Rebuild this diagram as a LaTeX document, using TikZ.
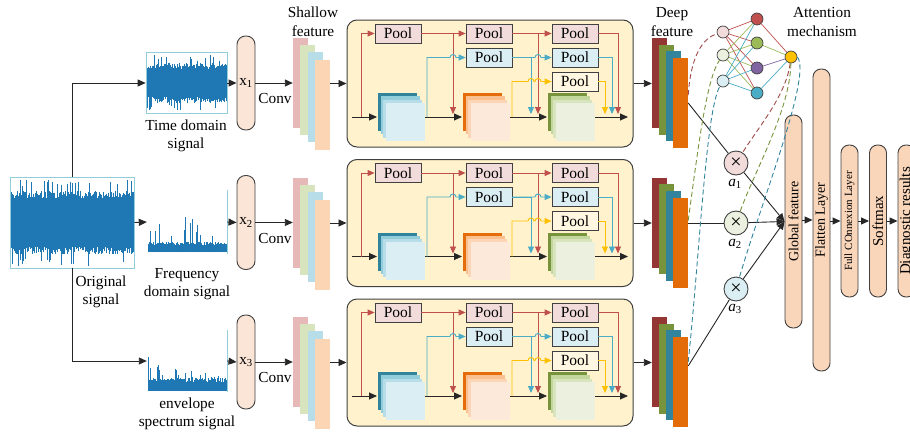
\documentclass[tikz,border=0pt]{standalone}
\usepackage{fontspec}
\setmainfont{Liberation Serif}
\usepackage{tikz}
\usetikzlibrary{arrows.meta, positioning}

\definecolor{sigblue}{HTML}{1F77B4}
\definecolor{sigframe}{HTML}{92CDDC}
\definecolor{edgegray}{HTML}{404040}
\definecolor{pillfill}{HTML}{FBE5D6}
\definecolor{layerfill}{HTML}{F9D5BA}
\definecolor{blockfill}{HTML}{FFF2CC}
\definecolor{pred}{HTML}{C0504D}
\definecolor{pgreen}{HTML}{9BBB59}
\definecolor{pblue}{HTML}{4BACC6}
\definecolor{ppurple}{HTML}{8064A2}
\definecolor{pyellow}{HTML}{FFC000}
\definecolor{lred}{HTML}{F2DCDB}
\definecolor{lgreen}{HTML}{EBF1DE}
\definecolor{lblue}{HTML}{DAEEF3}
\definecolor{lyellow}{HTML}{FFF7E1}
\definecolor{shA}{HTML}{E6B9B8}
\definecolor{shB}{HTML}{D7E4BD}
\definecolor{shC}{HTML}{B7DEE8}
\definecolor{shD}{HTML}{FCD5B5}
\definecolor{dpA}{HTML}{943634}
\definecolor{dpB}{HTML}{77933C}
\definecolor{dpC}{HTML}{31849B}
\definecolor{dpD}{HTML}{E36C09}
\definecolor{cubeA1}{HTML}{31849B}
\definecolor{cubeA2}{HTML}{92CDDC}
\definecolor{cubeA3}{HTML}{B7DEE8}
\definecolor{cubeA4}{HTML}{DAEEF3}
\definecolor{cubeB1}{HTML}{E46C0A}
\definecolor{cubeB2}{HTML}{FAC090}
\definecolor{cubeB3}{HTML}{FBD5B5}
\definecolor{cubeB4}{HTML}{FDE9D9}
\definecolor{cubeC1}{HTML}{77933C}
\definecolor{cubeC2}{HTML}{C3D69B}
\definecolor{cubeC3}{HTML}{D7E4BD}
\definecolor{cubeC4}{HTML}{EBF1DE}

\begin{document}
\begin{tikzpicture}[x=1pt, y=-1pt, font=\fontsize{15.3}{18.5}\selectfont,
    arr/.style={draw=black!85, line width=0.9pt, -{Triangle[length=8pt,width=7pt]}},
    link/.style={draw=black!85, line width=0.9pt},
    redl/.style={draw=pred, line width=0.9pt, -{Triangle[length=7pt,width=6pt]}},
    bluel/.style={draw=pblue, line width=0.9pt, -{Triangle[length=7pt,width=6pt]}},
    yell/.style={draw=pyellow, line width=0.9pt, -{Triangle[length=7pt,width=6pt]}},
    sig/.style={draw=sigblue, line width=0.9pt},
    sigbox/.style={draw=sigframe, line width=0.7pt, inner sep=0pt},
    pill/.style={draw=edgegray, line width=0.9pt, fill=pillfill, rounded corners=8.5pt, inner sep=0pt, minimum width=18pt, minimum height=94pt},
    layer/.style={draw=edgegray, line width=0.9pt, fill=layerfill, rounded corners=8pt, inner sep=0pt, minimum width=17pt},
    pool/.style={draw=edgegray, line width=0.8pt, inner sep=0pt, minimum width=46pt, minimum height=19pt, font=\fontsize{15.5}{17}\selectfont},
    slab/.style={inner sep=0pt, minimum width=15pt, minimum height=90pt},
    mul/.style={circle, draw=edgegray, line width=0.9pt, minimum size=24pt, inner sep=0pt},
    neuron/.style={circle, draw=edgegray, line width=0.7pt, minimum size=12pt, inner sep=0pt},
    att/.style={dash pattern=on 5pt off 3pt, line width=0.9pt},
    txt/.style={align=center, inner sep=0pt}]
  \useasboundingbox (0,0) rectangle (910,434);

  \node[sigbox, minimum width=124pt, minimum height=91pt] (orig) at (72,222.5) {};
  \node[sigbox, minimum width=81pt, minimum height=61pt] (ts) at (186.5,83) {};
  \node[inner sep=0pt, minimum width=80pt, minimum height=63pt] (fs) at (187,222) {};
  \node[inner sep=0pt, minimum width=80pt, minimum height=62pt] (es) at (187,361) {};
  \draw[draw=sigframe, line width=0.7pt] (fs.north east) -- (fs.south east);
  \draw[draw=sigframe, line width=0.7pt] (es.north east) -- (es.south east);

  \pgfmathsetseed{7}
  \foreach \px in {11.5,12.2,...,133.5}{
    \pgfmathsetmacro\up{24+8*rnd+12*(rnd>0.9)}
    \pgfmathsetmacro\dn{24+8*rnd+12*(rnd>0.9)}
    \draw[sig] (\px,222.5-\up) -- (\px,222.5+\dn);
  }
  \foreach \px in {147,147.7,...,226.5}{
    \pgfmathsetmacro\up{14+6*rnd+8*(rnd>0.9)}
    \pgfmathsetmacro\dn{14+6*rnd+8*(rnd>0.9)}
    \draw[sig] (\px,83-\up) -- (\px,83+\dn);
  }
  \foreach \px in {148,148.7,...,226.5}{
    \pgfmathsetmacro\h{7+3*rnd+(rnd>0.88)*(6+22*rnd)}
    \draw[sig] (\px,252) -- (\px,252-\h);
  }
  \foreach \px in {148,148.7,...,226.5}{
    \pgfmathsetmacro\h{9+4*rnd+(rnd>0.75)*(5+28*rnd)*exp(-(\px-148)/35)}
    \draw[sig] (\px,391) -- (\px,391-\h);
  }

  \node[txt] (tor) at (101,292) {Original\\signal};
  \node[txt] (tts) at (186,136) {Time domain\\signal};
  \node[txt] (tfs) at (187,284) {Frequency\\domain signal};
  \node[txt] (tes) at (187,414) {envelope\\spectrum signal};
  \node[txt] (tshal) at (313,22) {Shallow\\feature};
  \node[txt] (tdeep) at (672,22) {Deep\\feature};
  \node[txt] (tatt) at (822,22) {Attention\\mechanism};

  \draw[arr] (orig.north) |- (ts.west);
  \draw[arr] (orig.east) -- (fs.west);
  \draw[arr] (orig.south) |- (es.west);

  \foreach \b/\dy in {1/0,2/139.5,3/279}{
    \begin{scope}[shift={(0,\dy)}]
      \node[pill] (x\b) at (246,83) {x\textsubscript{\b}};
      \node (cv\b) at (275,99) {Conv};
      \node[slab, fill=shA] (sa\b) at (300.5,83) {};
      \node[slab, fill=shB] (sb\b) at (307.5,90) {};
      \node[slab, fill=shC] (sc\b) at (315,97) {};
      \node[slab, fill=shD] (sd\b) at (322.5,105) {};
      \node[draw=edgegray, line width=1pt, fill=blockfill, rounded corners=10pt, minimum width=286pt, minimum height=127pt, inner sep=0pt] (blk\b) at (490,83.5) {};
      \node[slab, fill=dpA] (da\b) at (659.5,83) {};
      \node[slab, fill=dpB] (db\b) at (666.5,89.5) {};
      \node[slab, fill=dpC] (dc\b) at (673.5,96) {};
      \node[slab, fill=dpD] (dd\b) at (680.5,103) {};

      \draw[arr] (x\b.east) -- (sa\b.west);
      \draw[arr] (sd\b.east |- blk\b.west) -- (blk\b.west);
      \draw[arr] (blk\b.east) -- (da\b.west |- blk\b.east);

      \foreach \k/\c in {0/cubeA1,1/cubeA2,2/cubeA3,3/cubeA4}
        \fill[\c] (378+2.7*\k,93+3.3*\k) rectangle ++(39,38);
      \foreach \k/\c in {0/cubeB1,1/cubeB2,2/cubeB3,3/cubeB4}
        \fill[\c] (463+2.7*\k,93+3.3*\k) rectangle ++(39,38);
      \foreach \k/\c in {0/cubeC1,1/cubeC2,2/cubeC3,3/cubeC4}
        \fill[\c] (548+2.7*\k,93+3.3*\k) rectangle ++(39,38);

      \node[pool, fill=lred] (pr1\b) at (398,33.5) {Pool};
      \node[pool, fill=lred] (pr2\b) at (489,33.5) {Pool};
      \node[pool, fill=lred] (pr3\b) at (575,33.5) {Pool};
      \node[pool, fill=lblue] (pb2\b) at (489,57.5) {Pool};
      \node[pool, fill=lblue] (pb3\b) at (575,57.5) {Pool};
      \node[pool, fill=lyellow] (py3\b) at (575,81.5) {Pool};

      \draw[arr] (352,117) -- (377,117);
      \draw[arr] (425,117) -- (462,117);
      \draw[arr] (510,117) -- (547,117);
      \draw[arr] (595,117) -- (628,117);

      \draw[redl] (361,117) |- (pr1\b.west);
      \draw[redl] (pr1\b.east) -- (pr2\b.west);
      \draw[redl] (pr1\b.east) -| (453,114);
      \draw[redl] (pr2\b.east) -- (pr3\b.west);
      \draw[redl] (pr2\b.east) -| (538,114);
      \draw[redl] (pr3\b.east) -| (618,114);

      \draw[bluel] (427,117) |- (450,57.5) arc[start angle=180, end angle=360, radius=3] -- (pb2\b.west);
      \draw[bluel] (pb2\b.east) -- (535,57.5) arc[start angle=180, end angle=360, radius=3] -- (pb3\b.west);
      \draw[bluel] (pb2\b.east) -| (531,114);
      \draw[bluel] (pb3\b.east) -| (612,114);

      \draw[yell] (512,117) |- (528,81.5) arc[start angle=180, end angle=360, radius=3] -- (535,81.5) arc[start angle=180, end angle=360, radius=3] -- (py3\b.west);
      \draw[yell] (py3\b.east) -| (605,114);
    \end{scope}
  }

  \draw[arr] (ts.east) -- (x1.west);
  \draw[arr] (fs.east) -- (x2.west);
  \draw[arr] (es.east) -- (x3.west);

  \node[layer, minimum height=213pt] (gf) at (793.5,221.5) {\rotatebox{90}{\fontsize{14}{14}\selectfont Global feature}};
  \node[layer, minimum height=302pt] (fl) at (821.5,220) {\rotatebox{90}{\fontsize{14}{14}\selectfont Flatten Layer}};
  \node[layer, minimum height=152pt] (fc) at (849.5,221) {\rotatebox{90}{\fontsize{11}{11}\selectfont Full COnnexion Layer}};
  \node[layer, minimum height=152pt] (sm) at (878,221) {\rotatebox{90}{\fontsize{15}{15}\selectfont Softmax}};
  \node[layer, minimum height=152pt] (dr) at (906.5,221) {\rotatebox{90}{\fontsize{15}{15}\selectfont Diagnostic results}};
  \draw[arr] (gf.east |- fl) -- (fl.west);
  \draw[arr] (fl.east |- fc) -- (fc.west);
  \draw[arr] (fc.east) -- (sm.west);
  \draw[arr] (sm.east) -- (dr.west);

  \node[mul, fill=lred] (m1) at (736,163) {\fontsize{20}{20}\selectfont ×};
  \node[mul, fill=lgreen] (m2) at (736,223) {\fontsize{20}{20}\selectfont ×};
  \node[mul, fill=lblue] (m3) at (736,289) {\fontsize{20}{20}\selectfont ×};
  \node (a1) at (735,184) {\textit{a}\textsubscript{1}};
  \node (a2) at (735,244) {\textit{a}\textsubscript{2}};
  \node (a3) at (735,309) {\textit{a}\textsubscript{3}};

  \draw[link] (dd1.east) -- (m1);
  \draw[link] (dd2.east |- m2) -- (m2);
  \draw[link] (dd3.east) ++(0,-16) -- (m3);
  \draw[arr] (m1) -- (gf.west);
  \draw[arr] (m2) -- (gf.west);
  \draw[arr] (m3) -- (gf.west);

  \node[neuron, fill=lred] (i1) at (723,32) {};
  \node[neuron, fill=lgreen] (i2) at (723,55) {};
  \node[neuron, fill=lblue] (i3) at (723,81) {};
  \node[neuron, fill=pred] (h1) at (757,19) {};
  \node[neuron, fill=pgreen] (h2) at (757,43) {};
  \node[neuron, fill=ppurple] (h3) at (757,68) {};
  \node[neuron, fill=pblue] (h4) at (757,93) {};
  \node[neuron, fill=pyellow] (o) at (791,57) {};
  \foreach \i/\c in {1/pred,2/pgreen,3/pblue}
    \foreach \j in {1,...,4}
      \draw[\c, line width=0.7pt] (i\i) -- (h\j);
  \foreach \j/\c in {1/pred,2/pgreen,3/ppurple,4/pblue}
    \draw[\c, line width=0.7pt] (h\j) -- (o);

  \draw[att, draw=dpA!90] (dd1.east) ++(0,-8) .. controls (691,55) and (703,38) .. (i1);
  \draw[att, draw=dpB] (dd2.east) ++(0,-22) .. controls (698,150) and (706,80) .. (i2);
  \draw[att, draw=dpC] (dd3.east) ++(0,-20) .. controls (700,250) and (706,110) .. (i3);
  \draw[att, draw=dpA!90] (o) .. controls (786,95) and (760,125) .. (m1);
  \draw[att, draw=dpB] (o) .. controls (790,110) and (755,170) .. (m2);
  \draw[att, draw=dpC] (o.east) .. controls (812,75) and (762,200) .. (m3);
\end{tikzpicture}
\end{document}
